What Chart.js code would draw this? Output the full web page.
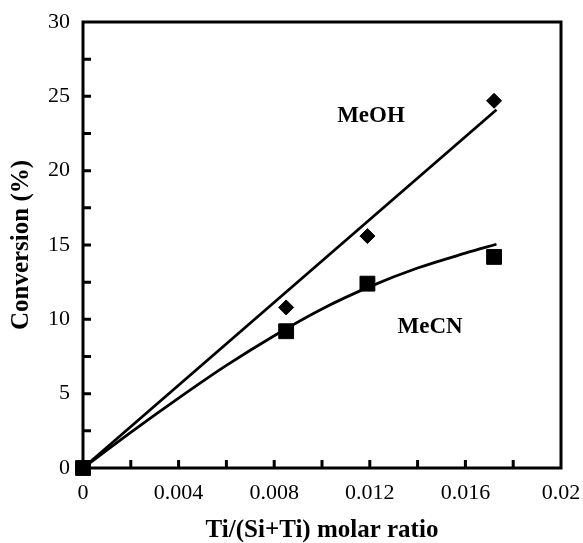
<!DOCTYPE html>
<html>
<head>
<meta charset="utf-8">
<script src="https://cdn.jsdelivr.net/npm/chart.js@4/dist/chart.umd.min.js"></script>
<style>
    body { margin: 0; background: #fff; }
    canvas { display: block; }
</style>
</head>
<body>
<canvas id="conv_chart" width="583" height="543"></canvas>
<script>
// measured points (Ti/(Si+Ti) ratio vs conversion %)
const ratio = [0, 0.0085, 0.0119, 0.0172];
const meohConv = [0, 10.8, 15.6, 24.7];
const mecnConv = [0, 9.2, 12.4, 14.2];

// trend lines
const meohFitX = [0, 0.0173];
const meohFitY = [0, 24.1];
const mecnFitX = [0, 0.002, 0.004, 0.006, 0.008, 0.010, 0.012, 0.014, 0.016, 0.0173];
const mecnFitY = [0, 2.4, 4.7, 6.9, 8.9, 10.7, 12.2, 13.45, 14.45, 15.05];

// small inward tick marks
const xTickMarks = [0.002, 0.004, 0.006, 0.008, 0.010, 0.012, 0.014, 0.016, 0.018];
const yTickMarks = [2.5, 5, 7.5, 10, 12.5, 15, 17.5, 20, 22.5, 25, 27.5];

// series labels inside the plot
const seriesLabels = [
    { text: "MeOH", x: 0.01205, y: 23.7 },
    { text: "MeCN", x: 0.01452, y: 9.5 }
];

function pts(xs, ys) {
    return xs.map((x, i) => ({ x: x, y: ys[i] }));
}

const serif = "'Liberation Serif', 'Times New Roman', serif";

const framePlugin = {
    id: "frame",
    afterDatasetsDraw(chart) {
        const c = chart.ctx;
        const a = chart.chartArea;
        const xs = chart.scales.x;
        const ys = chart.scales.y;
        c.save();
        c.strokeStyle = "#000";
        c.lineWidth = 3;
        c.strokeRect(a.left, a.top, a.right - a.left, a.bottom - a.top);
        c.beginPath();
        xTickMarks.forEach(v => {
            let px = xs.getPixelForValue(v);
            c.moveTo(px, a.bottom);
            c.lineTo(px, a.bottom - 8);
        });
        yTickMarks.forEach(v => {
            let py = ys.getPixelForValue(v);
            c.moveTo(a.left, py);
            c.lineTo(a.left + 8, py);
        });
        c.stroke();
        c.fillStyle = "#000";
        c.font = "bold 23px " + serif;
        c.textAlign = "center";
        c.textBaseline = "middle";
        seriesLabels.forEach(l => {
            c.fillText(l.text, xs.getPixelForValue(l.x), ys.getPixelForValue(l.y));
        });
        c.restore();
    }
};

let c = document.getElementById("conv_chart").getContext("2d");
let chart = new Chart(c, {
    type: "scatter",
    data: {
        datasets: [
            {
                label: "MeCN",
                data: pts(ratio, mecnConv),
                pointStyle: "rect",
                pointRadius: 10.5,
                borderWidth: 1,
                backgroundColor: "#000",
                borderColor: "#000",
                clip: false
            },
            {
                label: "MeOH",
                data: pts(ratio, meohConv),
                pointStyle: "rectRot",
                pointRadius: 7.5,
                borderWidth: 1,
                backgroundColor: "#000",
                borderColor: "#000",
                clip: false
            },
            {
                label: "MeOH fit",
                data: pts(meohFitX, meohFitY),
                showLine: true,
                pointRadius: 0,
                borderWidth: 2.8,
                borderColor: "#000"
            },
            {
                label: "MeCN fit",
                data: pts(mecnFitX, mecnFitY),
                showLine: true,
                pointRadius: 0,
                borderWidth: 2.8,
                borderColor: "#000",
                cubicInterpolationMode: "monotone"
            }
        ]
    },
    options: {
        responsive: false,
        animation: false,
        layout: { padding: { left: 0, top: 22, right: 22, bottom: 0 } },
        plugins: {
            legend: { display: false },
            tooltip: { enabled: false }
        },
        scales: {
            x: {
                type: "linear",
                min: 0,
                max: 0.02,
                afterFit: s => { s.height = 75; s.paddingLeft = 0; s.paddingRight = 0; },
                grid: { display: false, drawTicks: false },
                border: { display: false },
                ticks: {
                    stepSize: 0.004,
                    padding: 12,
                    color: "#000",
                    font: { family: serif, size: 22 },
                    callback: v => String(+v.toFixed(3))
                },
                title: {
                    display: true,
                    text: "Ti/(Si+Ti) molar ratio",
                    color: "#000",
                    font: { family: serif, size: 25, weight: "bold", lineHeight: 1 },
                    padding: { top: 0, bottom: 0 }
                }
            },
            y: {
                min: 0,
                max: 30,
                afterFit: s => { s.width = 83; s.paddingTop = 0; s.paddingBottom = 0; },
                grid: { display: false, drawTicks: false },
                border: { display: false },
                ticks: {
                    stepSize: 5,
                    padding: 13,
                    color: "#000",
                    font: { family: serif, size: 22 }
                },
                title: {
                    display: true,
                    text: "Conversion (%)",
                    color: "#000",
                    font: { family: serif, size: 25, weight: "bold", lineHeight: 1 },
                    padding: { top: 9, bottom: 0 }
                }
            }
        }
    },
    plugins: [framePlugin]
});
</script>
</body>
</html>
